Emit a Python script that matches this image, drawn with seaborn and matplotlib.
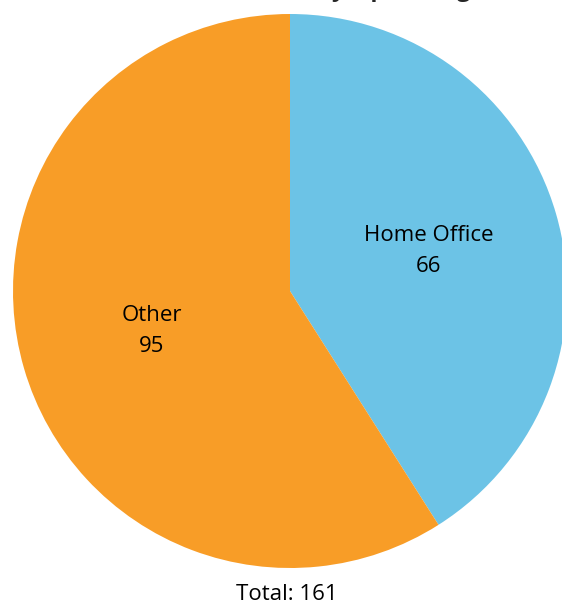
import matplotlib
matplotlib.use("Agg")
import matplotlib.pyplot as plt
import seaborn as sns

# Data
categories = ["Home Office", "Other"]
values = [66, 95]
colors = ["#6CC3E6", "#F89D27"]
title = "Contracts Currently Operating"

sns.set_style("white")
plt.rcParams['font.family'] = ['Open Sans', 'DejaVu Sans']

fig = plt.figure(figsize=(5.62, 6.04), dpi=100)
ax = fig.add_axes([13 / 562, 36 / 604, 554 / 562, 554 / 604])

labels = [f"{c}\n{v}" for c, v in zip(categories, values)]
wedges, texts = ax.pie(values, labels=labels, colors=colors, startangle=90,
                       counterclock=False, labeldistance=0.52,
                       wedgeprops={'linewidth': 0},
                       textprops={'fontsize': 16, 'color': 'black',
                                  'linespacing': 1.6})
for t in texts:
    t.set_horizontalalignment('center')
    t.set_verticalalignment('center')
ax.set_xlim(-1, 1)
ax.set_ylim(-1, 1)
ax.set_aspect('equal')
ax.axis('off')

fig.text(292 / 562, 1.0 + 10 / 604, title, ha='center', va='center',
         fontsize=17, fontweight='bold')
fig.text(287 / 562, 1 - 594 / 604, f"Total: {sum(values)}", ha='center', va='center',
         fontsize=16, color='black')

fig.savefig("out.png", dpi=100)
